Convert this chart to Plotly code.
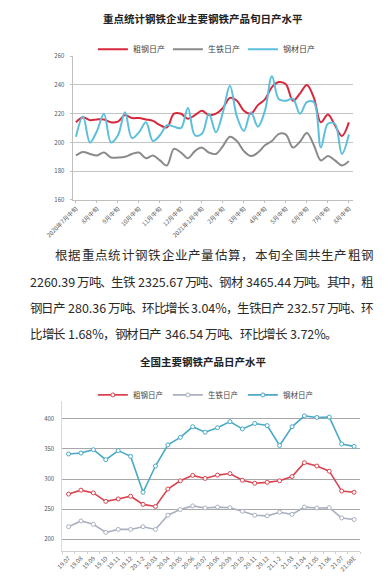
import plotly.graph_objects as go

W, H = 390, 585

# ---------- Top chart data (dekadal daily output, 万吨) ----------
months = [(2020, m) for m in range(7, 13)] + [(2021, m) for m in range(1, 9)]
dekads = []
for (yy, mm) in months:
    for d in ["上旬", "中旬", "下旬"]:
        dekads.append(f"{yy}年{mm}月{d}")
dekads = dekads[1:-1]  # 2020年7月中旬 ... 2021年8月中旬 (40 dekads)

top_tick_vals = [dekads[i] for i in range(0, 40, 3)]
top_tick_text = ["2020年7月中旬", "8月中旬", "9月中旬", "10月中旬", "11月中旬", "12月中旬",
                 "2021年1月中旬", "2月中旬", "3月中旬", "4月中旬", "5月中旬", "6月中旬",
                 "7月中旬", "8月中旬"]

crude_steel_dekad = [214, 217.5, 215.5, 216, 216, 214, 214.5, 219, 217, 217,
                     216, 215, 212, 210.5, 220, 220, 216.5, 219, 222, 219,
                     220, 224, 231, 229, 222, 220, 226, 230, 238.5, 242,
                     240.5, 229, 234, 240, 231, 214, 219.5, 212, 204.5, 214]
pig_iron_dekad = [191, 193.4, 192, 191, 193, 189.5, 189.5, 190, 192, 193,
                  189, 191, 187.5, 184, 195.5, 193, 189, 194, 196.4, 193,
                  192, 197.5, 204, 201, 194, 190.5, 193, 198, 201, 206,
                  205.5, 196.5, 200.5, 206.5, 198, 187.5, 190.5, 187.5, 184, 187]
steel_prod_dekad = [204, 218, 200, 208, 220, 200, 205, 221, 203, 207,
                    214, 201, 205, 212, 211, 210, 224, 205, 206, 220,
                    207, 221, 239.5, 218, 208, 221, 211, 222, 246, 230,
                    229, 230.5, 220, 228, 228, 196.5, 213, 213, 192, 205.5]

# ---------- Bottom chart data (monthly national daily output, 万吨) ----------
months_nat = ["19.07", "19.08", "19.09", "19.10", "19.11", "19.12", "20.1-2", "20.03",
              "20.04", "20.05", "20.06", "20.07", "20.08", "20.09", "20.10", "20.11",
              "20.12", "21.1-2", "21.03", "21.04", "21.05", "21.06", "21.07", "21.08E"]
crude_steel_nat = [275, 281.5, 277, 263, 267, 271.5, 258, 254.5, 283.5, 297, 306, 301,
                   306.5, 309, 298, 293, 294.5, 297, 304, 327, 321.5, 313, 280, 278]
pig_iron_nat = [221, 230.5, 225, 211.5, 216.5, 216.5, 221, 216.5, 240, 249.5, 255.5, 252,
                253.5, 252.5, 246.5, 240, 239, 245, 241.5, 253.5, 252, 252.5, 235.5, 233]
steel_prod_nat = [341.5, 343, 348.5, 332, 347, 337.5, 278, 321.5, 356.5, 369, 386.5, 377.5,
                  385, 395, 383, 392, 388.5, 355.5, 386.5, 404.5, 402, 402.5, 358, 354]

series_names = ["粗钢日产", "生铁日产", "钢材日产"]
top_colors = ["#d8283c", "#8a8a8a", "#5cbfdb"]
bot_colors = ["#d9434f", "#a9b0bf", "#4aa9c7"]

paragraph = [
    "根据重点统计钢铁企业产量估算，本旬全国共生产粗钢",
    "2260.39 万吨、生铁 2325.67 万吨、钢材 3465.44 万吨。其中，粗",
    "钢日产 280.36 万吨、环比增长 3.04%，生铁日产 232.57 万吨、环",
    "比增长 1.68%，钢材日产 346.54 万吨、环比增长 3.72%。",
]

FONT = "Noto Sans CJK SC"
FS = 12.5

def py(px):
    return 1 - px / H

def pxx(px):
    return px / W

fig = go.Figure()

for name, vals, col in zip(series_names, [crude_steel_dekad, pig_iron_dekad, steel_prod_dekad], top_colors):
    fig.add_trace(go.Scatter(
        x=dekads, y=vals, name=name, mode="lines",
        line=dict(color=col, width=2, shape="spline", smoothing=1.0),
        xaxis="x", yaxis="y", legend="legend", hoverinfo="skip"))

for name, vals, col in zip(series_names, [crude_steel_nat, pig_iron_nat, steel_prod_nat], bot_colors):
    fig.add_trace(go.Scatter(
        x=months_nat, y=vals, name=name, mode="lines+markers",
        line=dict(color=col, width=1.6),
        marker=dict(symbol="circle", size=4, color="white", line=dict(color=col, width=1)),
        xaxis="x2", yaxis="y2", legend="legend2", hoverinfo="skip"))

tickfont = dict(family=FONT, size=6, color="#555555")

fig.update_layout(
    width=W, height=H,
    margin=dict(l=0, r=0, t=0, b=0),
    paper_bgcolor="white", plot_bgcolor="white",
    font=dict(family=FONT, color="#333333"),
    showlegend=True,
    xaxis=dict(domain=[pxx(48), pxx(350)], anchor="y", type="category",
               range=[-0.49, 39.57], tickmode="array",
               tickvals=top_tick_vals, ticktext=top_tick_text, tickangle=-45,
               tickfont=tickfont, showgrid=False, showline=True,
               linecolor="#bfbfbf", linewidth=1, ticks="outside", ticklen=2,
               tickcolor="#bfbfbf", zeroline=False, fixedrange=True),
    yaxis=dict(domain=[py(198), py(52)], anchor="x", range=[160, 260], dtick=20,
               tickfont=tickfont, showgrid=True, gridcolor="#c4c4c4", gridwidth=1,
               showline=True, linecolor="#bfbfbf", ticks="outside", ticklen=2,
               tickcolor="#bfbfbf", zeroline=False, ticklabelstandoff=4),
    xaxis2=dict(domain=[pxx(37), pxx(358)], anchor="y2", type="category",
                range=[-0.5, 23.5], tickangle=-45, tickfont=tickfont,
                showgrid=False, showline=True, linecolor="#cfcfcf", linewidth=1,
                ticks="outside", ticklen=2, tickcolor="#cfcfcf",
                tickson="boundaries", zeroline=False),
    yaxis2=dict(domain=[py(555), py(401.7)], anchor="x2", range=[180, 430], dtick=50,
                tickfont=tickfont, showgrid=True, gridcolor="#a8a8a8", gridwidth=1,
                showline=True, linecolor="#d9d9d9", zeroline=False,
                ticklabelstandoff=6),
    legend=dict(orientation="h", x=0.49, xanchor="center", y=py(45), yanchor="middle",
                font=dict(family=FONT, size=8, color="#444444"),
                bgcolor="rgba(0,0,0,0)", itemwidth=30, entrywidth=30, entrywidthmode="pixels"),
    legend2=dict(orientation="h", x=0.49, xanchor="center", y=py(396), yanchor="middle",
                 font=dict(family=FONT, size=7.5, color="#444444"),
                 bgcolor="rgba(0,0,0,0)", itemwidth=30, entrywidth=30, entrywidthmode="pixels"),
)

annotations = [
    dict(text="<b>重点统计钢铁企业主要钢铁产品旬日产水平</b>", x=pxx(188), y=py(14),
         xref="paper", yref="paper", xanchor="center", yanchor="middle", showarrow=False,
         font=dict(family=FONT, size=10.5, color="#222222")),
    dict(text="<b>全国主要钢铁产品日产水平</b>", x=pxx(188), y=py(362),
         xref="paper", yref="paper", xanchor="center", yanchor="middle", showarrow=False,
         font=dict(family=FONT, size=10.5, color="#222222")),
]


# ---- justified paragraph: split each line into tokens and spread them ----
def char_w(c):
    if c.isdigit():
        return 0.58
    if c == ".":
        return 0.3
    if c == "%":
        return 0.95
    if c == " ":
        return 0.3
    return 1.0


def tokenize(s):
    toks = []
    cur = ""
    for c in s:
        if c.isascii():
            if c == " ":
                if cur:
                    toks.append(cur)
                    cur = ""
                toks.append(" ")
            else:
                cur += c
        else:
            if cur:
                toks.append(cur)
                cur = ""
            toks.append(c)
    if cur:
        toks.append(cur)
    return toks


line_y = [253, 280.5, 307.5, 334]
line_x0 = [30, 3, 3, 3]
line_x1 = [372, 372, 372, None]
for txt, yy, x0, x1 in zip(paragraph, line_y, line_x0, line_x1):
    toks = tokenize(txt)
    widths = [sum(char_w(c) for c in t) * FS for t in toks]
    natural = sum(widths)
    vis = [t for t in toks if t != " "]
    extra = 0.0
    if x1 is not None and len(vis) > 1:
        extra = (x1 - x0 - natural) / (len(vis) - 1)
    x = x0
    for t, w in zip(toks, widths):
        if t == " ":
            x += w
            continue
        annotations.append(dict(text=t, x=pxx(x + w / 2), y=py(yy), xref="paper", yref="paper",
                                xanchor="center", yanchor="middle", showarrow=False,
                                borderpad=0,
                                font=dict(family=FONT, size=FS, color="#2a2a2a")))
        x += w + extra

fig.update_layout(annotations=annotations)

fig.write_html("out.html",
               config={"displayModeBar": False},
               post_script="document.body.style.margin='0';document.body.style.padding='0';")
